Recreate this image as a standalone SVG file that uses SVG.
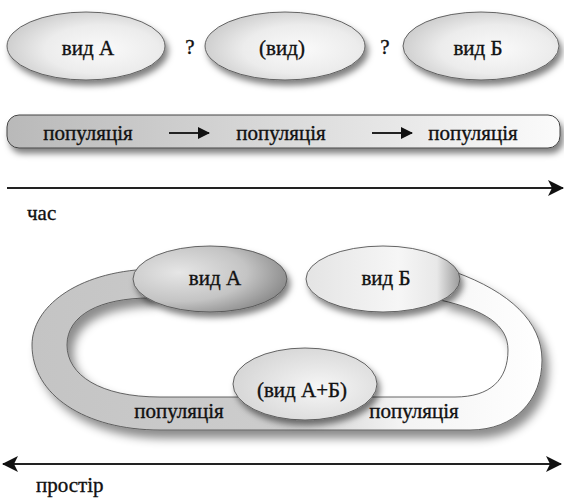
<svg xmlns="http://www.w3.org/2000/svg" width="564" height="500" viewBox="0 0 564 500">
<style>
.t{font-family:'Liberation Serif','DejaVu Serif','Times New Roman',serif;font-size:21px;fill:#111;stroke:#111;stroke-width:0.35;text-anchor:middle}
.tl{font-family:'Liberation Serif','DejaVu Serif','Times New Roman',serif;font-size:21px;fill:#111;stroke:#111;stroke-width:0.35}
.ol{stroke:#555;stroke-width:0.9}
.ax{stroke:#222;stroke-width:2;fill:none}
</style>
<defs>
<filter id="sh" x="-20%" y="-30%" width="150%" height="170%">
<feDropShadow dx="3" dy="5" stdDeviation="3" flood-color="#000" flood-opacity="0.5"/>
</filter>
<filter id="shr" x="-10%" y="-20%" width="125%" height="150%">
<feDropShadow dx="6" dy="8" stdDeviation="5" flood-color="#000" flood-opacity="0.45"/>
</filter>
<radialGradient id="gTop" cx="0.6" cy="0.55" r="0.6">
<stop offset="0" stop-color="#fafafa"/>
<stop offset="0.6" stop-color="#ececec"/>
<stop offset="1" stop-color="#cfcfcf"/>
</radialGradient>
<linearGradient id="gBar" x1="0" y1="0" x2="1" y2="0">
<stop offset="0" stop-color="#b9b9b9"/>
<stop offset="0.5" stop-color="#dadada"/>
<stop offset="1" stop-color="#fbfbfb"/>
</linearGradient>
<linearGradient id="gRing" x1="0" y1="0" x2="1" y2="0">
<stop offset="0" stop-color="#c4c4c4"/>
<stop offset="0.5" stop-color="#cdcdcd"/>
<stop offset="0.72" stop-color="#f3f3f3"/>
<stop offset="1" stop-color="#ffffff"/>
</linearGradient>
<radialGradient id="gA" cx="0.3" cy="0.4" r="0.8">
<stop offset="0" stop-color="#e6e6e6"/>
<stop offset="0.55" stop-color="#c4c4c4"/>
<stop offset="1" stop-color="#7c7c7c"/>
</radialGradient>
<linearGradient id="gB" x1="0" y1="0" x2="1" y2="0">
<stop offset="0" stop-color="#e4e4e4"/>
<stop offset="0.6" stop-color="#f6f6f6"/>
<stop offset="0.85" stop-color="#e8e8e8"/>
<stop offset="1" stop-color="#9a9a9a"/>
</linearGradient>
<radialGradient id="gAB" cx="0.6" cy="0.55" r="0.65">
<stop offset="0" stop-color="#f6f6f6"/>
<stop offset="1" stop-color="#d4d4d4"/>
</radialGradient>
<marker id="ah" viewBox="0 0 16 16" refX="15" refY="8" markerWidth="16" markerHeight="16" markerUnits="userSpaceOnUse" orient="auto-start-reverse">
<path d="M0,0 L16,8 L0,16 L4,8 Z" fill="#111"/>
</marker>
<marker id="ahs" viewBox="0 0 12 12" refX="11" refY="6" markerWidth="12" markerHeight="12" markerUnits="userSpaceOnUse" orient="auto">
<path d="M0,0 L12,6 L0,12 Z" fill="#111"/>
</marker>
</defs>

<g id="node-vidA-top">
<ellipse cx="86" cy="46" rx="79" ry="34" fill="url(#gTop)" class="ol" filter="url(#sh)"/>
<text x="88" y="55" class="t">вид А</text>
</g>
<g id="node-vid-mid">
<ellipse cx="285" cy="46" rx="80" ry="34" fill="url(#gTop)" class="ol" filter="url(#sh)"/>
<text x="282" y="55" class="t">(вид)</text>
</g>
<g id="node-vidB-top">
<ellipse cx="481" cy="46" rx="78" ry="34" fill="url(#gTop)" class="ol" filter="url(#sh)"/>
<text x="478" y="55" class="t">вид Б</text>
</g>
<text x="190" y="54" class="t">?</text>
<text x="385" y="54" class="t">?</text>

<g id="node-population-bar">
<rect x="7" y="115" width="553" height="33" rx="12" fill="url(#gBar)" stroke="#444" stroke-width="1" filter="url(#sh)"/>
<text x="88" y="140" class="t">популяція</text>
<text x="281" y="140" class="t">популяція</text>
<text x="473" y="140" class="t">популяція</text>
</g>

<g id="node-ring">
<path d="M150,269 C75,272 32,308 32,345 C32,395 85,430 160,430 L470,430 C515,430 542,400 542,360 C542,322 510,292 455,272 L440,300 C485,310 508,325 508,350 C508,380 490,397 455,397 L160,397 C100,397 67,375 67,345 C67,315 100,298 150,298 Z" fill="url(#gRing)" fill-rule="evenodd" class="ol" filter="url(#shr)"/>
<text x="179" y="418" class="t">популяція</text>
<text x="414" y="418" class="t">популяція</text>
</g>
<g id="node-vidA-bottom">
<ellipse cx="210" cy="279" rx="77" ry="33" fill="url(#gA)" class="ol" filter="url(#sh)"/>
<text x="215" y="285" class="t">вид А</text>
</g>
<g id="node-vidB-bottom">
<ellipse cx="383" cy="279" rx="77" ry="33" fill="url(#gB)" class="ol" filter="url(#sh)"/>
<text x="386" y="285" class="t">вид Б</text>
</g>
<g id="node-vidAB">
<ellipse cx="305" cy="384" rx="72" ry="36" fill="url(#gAB)" class="ol" filter="url(#sh)"/>
<text x="302" y="397" class="t">(вид А+Б)</text>
</g>

<g id="connectors">
<line x1="169" y1="133" x2="209" y2="133" class="ax" marker-end="url(#ahs)"/>
<line x1="372" y1="133" x2="412" y2="133" class="ax" marker-end="url(#ahs)"/>
<line x1="7" y1="188" x2="563" y2="188" class="ax" marker-end="url(#ah)"/>
<line x1="3" y1="464" x2="561" y2="464" class="ax" marker-start="url(#ah)" marker-end="url(#ah)"/>
</g>
<text x="27" y="220" class="tl">час</text>
<text x="36" y="492" class="tl">простір</text>
</svg>
